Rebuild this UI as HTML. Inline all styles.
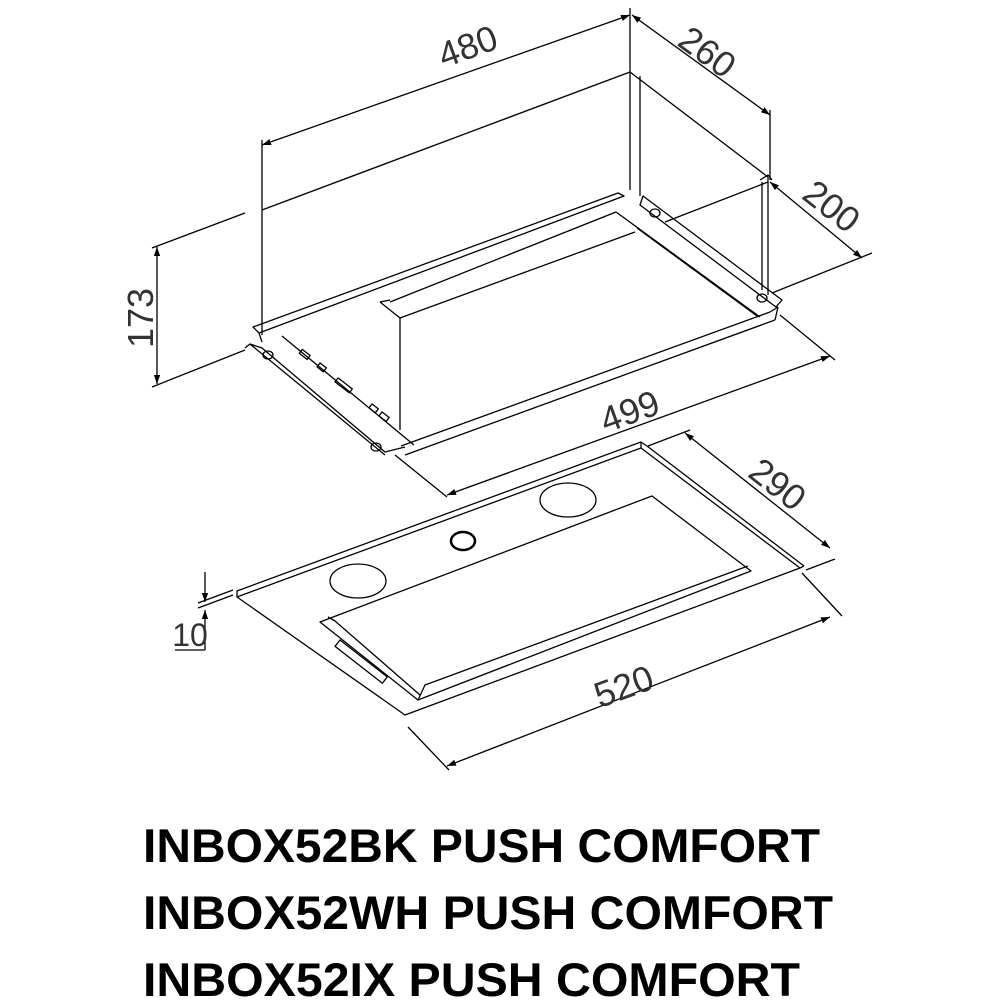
<!DOCTYPE html>
<html><head><meta charset="utf-8"><style>html,body{margin:0;padding:0;background:#fff}svg{display:block}</style></head>
<body>
<svg width="1000" height="1000" viewBox="0 0 1000 1000" xmlns="http://www.w3.org/2000/svg">
<defs>
<marker id="a" viewBox="0 0 10 10" refX="10" refY="5" markerWidth="9" markerHeight="9" orient="auto-start-reverse" markerUnits="userSpaceOnUse"><path d="M0,1.5 L10,5 L0,8.5 z" fill="#000"/></marker>
</defs>
<g fill="none" stroke="#000" stroke-width="1.3" stroke-linejoin="round">
<line x1="262" y1="145" x2="630" y2="15" marker-start="url(#a)" marker-end="url(#a)"/>
<line x1="262" y1="140" x2="262" y2="335"/>
<line x1="630" y1="8" x2="630" y2="72"/>
<line x1="632" y1="15" x2="770" y2="115" marker-start="url(#a)" marker-end="url(#a)"/>
<line x1="770" y1="110" x2="770" y2="180"/>
<line x1="770" y1="182" x2="862" y2="258" marker-start="url(#a)" marker-end="url(#a)"/>
<line x1="665" y1="222" x2="768" y2="182"/>
<line x1="772" y1="293" x2="872" y2="253"/>
<line x1="157" y1="247" x2="157" y2="384" marker-start="url(#a)" marker-end="url(#a)"/>
<line x1="152" y1="248" x2="245" y2="213"/>
<line x1="152" y1="387" x2="245" y2="350"/>
<line x1="447" y1="495" x2="830" y2="356" marker-start="url(#a)" marker-end="url(#a)"/>
<line x1="395" y1="455" x2="447" y2="497"/>
<line x1="780" y1="315" x2="835" y2="360"/>
<line x1="262" y1="210" x2="630" y2="72"/>
<line x1="630" y1="72" x2="768" y2="177"/>
<line x1="640" y1="76" x2="640" y2="196"/>
<line x1="630" y1="72" x2="630" y2="190"/>
<line x1="768" y1="177" x2="768" y2="295"/>
<polyline points="760,180 768,175 772,180"/>
<line x1="762" y1="182" x2="762" y2="290"/>
<polygon points="253,327 618,193 624,196 259,333"/>
<line x1="259" y1="333" x2="262" y2="342"/>
<polygon points="643,196 782,300 776,307 640,205"/>
<line x1="616" y1="212" x2="760" y2="317"/>
<line x1="616" y1="212" x2="390" y2="302"/>
<polyline points="245,348 250,344 262,348 385,452 405,447"/>
<polyline points="250,344 385,455"/>
<polyline points="282,336 414,445"/>
<line x1="405" y1="455" x2="775" y2="320"/>
<line x1="401" y1="446" x2="770" y2="312"/>
<line x1="770" y1="312" x2="778" y2="307"/>
<line x1="775" y1="320" x2="778" y2="307"/>
<polyline points="380,302 400,318 400,430"/>
<line x1="400" y1="318" x2="635" y2="232"/>
<line x1="380" y1="302" x2="390" y2="300"/>
<line x1="637" y1="228" x2="757" y2="316"/>
<rect x="300" y="352" width="10" height="5" transform="rotate(38 305 354)"/>
<rect x="318" y="365" width="8" height="5" transform="rotate(38 322 367)"/>
<rect x="335" y="383" width="18" height="5" transform="rotate(38 344 385)"/>
<rect x="370" y="406" width="8" height="5" transform="rotate(38 374 408)"/>
<rect x="380" y="414" width="9" height="5" transform="rotate(38 384 416)"/>
<ellipse cx="268" cy="355" rx="5" ry="4"/>
<ellipse cx="376" cy="447" rx="5" ry="4"/>
<ellipse cx="655" cy="213" rx="5" ry="4"/>
<ellipse cx="762" cy="298" rx="5" ry="4"/>
<line x1="685" y1="433" x2="830" y2="548" marker-start="url(#a)" marker-end="url(#a)"/>
<line x1="648" y1="446" x2="690" y2="430"/>
<line x1="806" y1="570" x2="835" y2="559"/>
<line x1="447" y1="766" x2="830" y2="617" marker-start="url(#a)" marker-end="url(#a)"/>
<line x1="408" y1="727" x2="449" y2="770"/>
<line x1="802" y1="573" x2="842" y2="616"/>
<polygon points="237,597 641,448 800,568 405,715"/>
<polyline points="237,597 237,591 641,442 647,446"/>
<line x1="641" y1="442" x2="641" y2="448"/>
<line x1="647" y1="446" x2="804" y2="566"/>
<line x1="800" y1="568" x2="804" y2="566"/>
<polygon points="320,622 652,496 751,571 418,700"/>
<polyline points="328,617 335,621 420,695"/>
<polyline points="418,700 425,685 748,566"/>
<ellipse cx="358" cy="581" rx="28" ry="17"/>
<ellipse cx="568" cy="500" rx="28" ry="17"/>
<ellipse cx="463" cy="541" rx="12" ry="9" stroke-width="2.5"/>
<rect x="340" y="640" width="60" height="8" transform="rotate(38 340 640)"/>
<line x1="205" y1="572" x2="205" y2="602" marker-end="url(#a)"/>
<line x1="205" y1="650" x2="205" y2="610" marker-end="url(#a)"/>
<line x1="198" y1="608" x2="233" y2="595"/>
<line x1="198" y1="603" x2="233" y2="590"/>
<line x1="175" y1="650" x2="205" y2="650"/>
</g>
<g font-family="Liberation Sans, sans-serif" font-size="36" fill="#333">
<text transform="translate(472,58) rotate(-20)" text-anchor="middle">480</text>
<text transform="translate(700,62) rotate(36)" text-anchor="middle">260</text>
<text transform="translate(824,216) rotate(38)" text-anchor="middle">200</text>
<text transform="translate(153,318) rotate(-90)" text-anchor="middle">173</text>
<text transform="translate(634,423) rotate(-20)" text-anchor="middle">499</text>
<text transform="translate(770,494) rotate(38)" text-anchor="middle">290</text>
<text transform="translate(628,698) rotate(-20)" text-anchor="middle">520</text>
<text x="190" y="646" text-anchor="middle" font-size="32">10</text>
</g>
<g font-family="Liberation Sans, sans-serif" font-size="47" font-weight="bold" fill="#000">
<text x="143" y="862" textLength="677" lengthAdjust="spacingAndGlyphs">INBOX52BK PUSH COMFORT</text>
<text x="143" y="929" textLength="690" lengthAdjust="spacingAndGlyphs">INBOX52WH PUSH COMFORT</text>
<text x="143" y="996" textLength="657" lengthAdjust="spacingAndGlyphs">INBOX52IX PUSH COMFORT</text>
</g>
</svg>
</body></html>
